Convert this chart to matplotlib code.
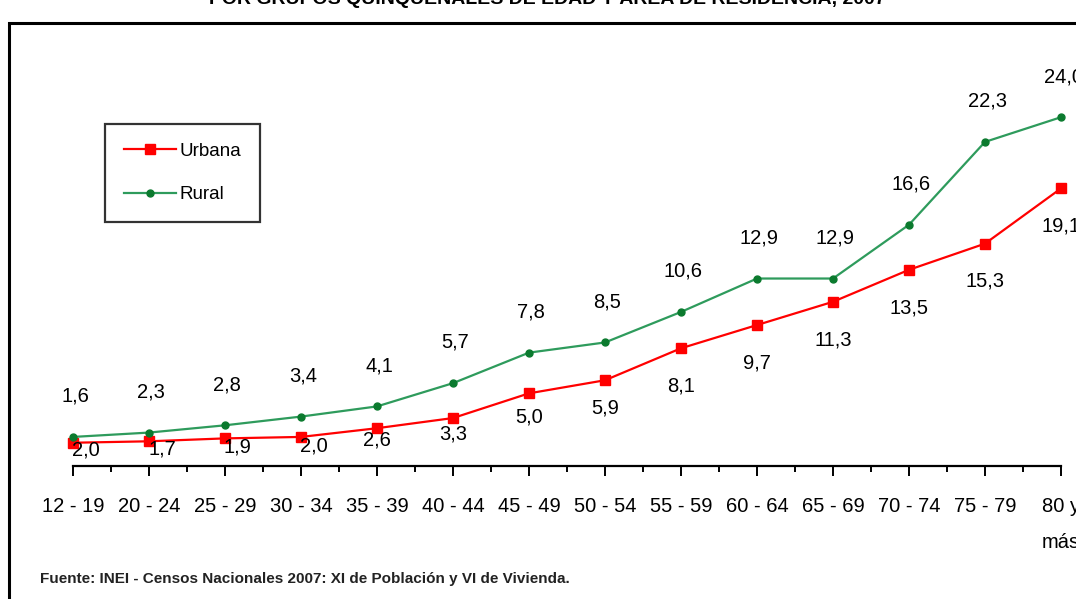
import numpy as np
import matplotlib.pyplot as plt
from matplotlib.patches import Rectangle
from matplotlib.ticker import FixedLocator

plt.rcParams['font.family'] = ['Liberation Sans', 'DejaVu Sans']

grupos = ["12 - 19", "20 - 24", "25 - 29", "30 - 34", "35 - 39", "40 - 44", "45 - 49",
          "50 - 54", "55 - 59", "60 - 64", "65 - 69", "70 - 74", "75 - 79", "80 y\nmás"]
urbana = [1.6, 1.7, 1.9, 2.0, 2.6, 3.3, 5.0, 5.9, 8.1, 9.7, 11.3, 13.5, 15.3, 19.1]
rural = [2.0, 2.3, 2.8, 3.4, 4.1, 5.7, 7.8, 8.5, 10.6, 12.9, 12.9, 16.6, 22.3, 24.0]
# etiquetas tal como aparecen en el grafico original
etiq_urbana = ["2,0", "1,7", "1,9", "2,0", "2,6", "3,3", "5,0", "5,9", "8,1", "9,7",
               "11,3", "13,5", "15,3", "19,1"]
etiq_rural = ["1,6", "2,3", "2,8", "3,4", "4,1", "5,7", "7,8", "8,5", "10,6", "12,9",
              "12,9", "16,6", "22,3", "24,0"]

W, H = 1076, 599
fig = plt.figure(figsize=(W / 100, H / 100), dpi=100)
ax = fig.add_axes([73 / W, 1 - 466 / H, (1061 - 73) / W, (466 - 30) / H])

x = np.arange(len(grupos))
ax.plot(x, urbana, color='#ff0000', lw=1.6, marker='s', ms=6.5,
        mfc='#ff0000', mec='#ff0000', label='Urbana', clip_on=False, zorder=3)
ax.plot(x, rural, color='#2e9b5c', lw=1.6, marker='o', ms=5,
        mfc='#0b7a2e', mec='#0b7a2e', label='Rural', clip_on=False, zorder=3)

for i in range(len(x)):
    ax.text(x[i] + 0.03, rural[i] + 2.8, etiq_rural[i], ha='center', va='center',
            fontsize=14.5, clip_on=False)
    v = urbana[i]
    dx = 0.17 if v < 2.3 else 0.0
    ax.text(x[i] + dx, v - 2.6 * min(1.0, v / 8.0), etiq_urbana[i], ha='center',
            va='center', fontsize=14.5, clip_on=False)

ax.set_xlim(0, 13)
ax.set_ylim(0, 30)
ax.set_xticks(x)
ax.set_xticklabels(grupos, fontsize=14.5, linespacing=2.1)
ax.xaxis.set_minor_locator(FixedLocator(x[:-1] + 0.5))
ax.tick_params(axis='x', which='major', length=7.5, width=1.4, pad=15, direction='out')
ax.tick_params(axis='x', which='minor', length=4.5, width=1.4, direction='out')
ax.set_yticks([])
for s in ['top', 'right', 'left']:
    ax.spines[s].set_visible(False)
ax.spines['bottom'].set_linewidth(1.6)

leg = fig.legend(loc='upper left', bbox_to_anchor=(105 / W, 1 - 124 / H),
                 fontsize=13.5, frameon=True, fancybox=False, borderaxespad=0,
                 borderpad=1.0, handlelength=2.8, handletextpad=0.15,
                 labelspacing=1.4, edgecolor='black')
leg.get_frame().set_linewidth(1.6)

# marco exterior
fig.patches.append(Rectangle((9 / W, -0.2), 1.2, 1 - 23 / H + 0.2,
                             transform=fig.transFigure, fill=False,
                             edgecolor='black', lw=2.2, clip_on=False))

fig.text(547 / W, 1 - 4 / H, "POR GRUPOS QUINQUENALES DE EDAD Y ÁREA DE RESIDENCIA, 2007",
         ha='center', va='baseline', fontsize=14, fontweight='bold')
fig.text(40 / W, 1 - 583 / H,
         "Fuente: INEI - Censos Nacionales 2007: XI de Población y VI de Vivienda.",
         ha='left', va='baseline', fontsize=11, fontweight='bold', color='#222222')

fig.savefig('out.png', dpi=100)
